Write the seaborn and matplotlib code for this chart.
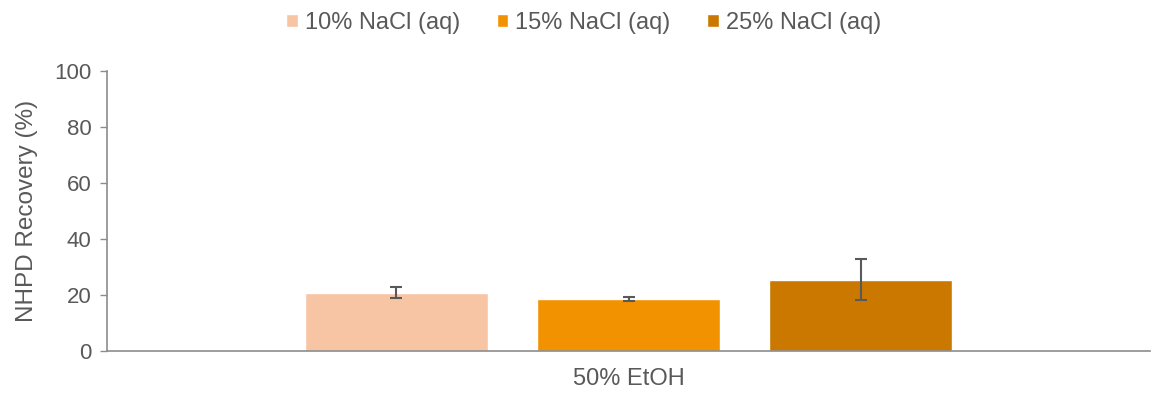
import matplotlib
matplotlib.use("Agg")
import matplotlib.pyplot as plt
import seaborn as sns
import pandas as pd

# Recovery data
categories = ["50% EtOH"]
series = ["10% NaCl (aq)", "15% NaCl (aq)", "25% NaCl (aq)"]
means = [20.8, 18.6, 25.4]
errors = [1.9, 0.6, 7.3]
colors = ["#F8C5A4", "#F39200", "#CB7800"]

df = pd.DataFrame({
    "solvent": categories * len(series),
    "salt": series,
    "recovery": means,
})

sns.set_theme(style="white")
plt.rcParams["font.family"] = ["Liberation Sans", "DejaVu Sans"]
text_color = "#595959"
spine_color = "#8C8C8C"

fig = plt.figure(figsize=(11.53, 3.98), dpi=100)
ax = fig.add_axes([107 / 1153, 1 - 351 / 398, (1150 - 107) / 1153, (351 - 71) / 398])

sns.barplot(data=df, x="solvent", y="recovery", hue="salt", hue_order=series,
            palette=colors, width=0.668, gap=0.21, errorbar=None, ax=ax,
            saturation=1, legend=True)

# error bars at bar centres
bars = [p for p in ax.patches if p.get_height() > 0][:len(series)]
bars.sort(key=lambda p: p.get_x())
xs = [p.get_x() + p.get_width() / 2 for p in bars]
ax.errorbar(xs, means, yerr=errors, fmt="none", ecolor="#595959",
            elinewidth=1.5, capsize=4.5, capthick=1.5, zorder=5)

ax.set_xlim(-0.5, 0.5)
ax.set_ylim(0, 100)
ax.set_yticks(range(0, 101, 20))
ax.set_xlabel("")
ax.set_ylabel("NHPD Recovery (%)", fontsize=17.5, color=text_color, labelpad=12)
ax.tick_params(axis="y", labelsize=16, labelcolor=text_color, length=5,
               color=spine_color, left=True, width=1, pad=6)
ax.tick_params(axis="x", labelsize=17, labelcolor=text_color, length=0, pad=12)
for s in ["top", "right"]:
    ax.spines[s].set_visible(False)
for s in ["left", "bottom"]:
    ax.spines[s].set_color(spine_color)
    ax.spines[s].set_linewidth(1.2)

leg = ax.legend(loc="upper center", bbox_to_anchor=(0.457, 1.245), ncol=3,
                frameon=False, fontsize=17, handlelength=0.5, handleheight=0.5,
                handletextpad=0.3, columnspacing=1.55, labelcolor=text_color,
                borderaxespad=0)

fig.savefig("out.png", dpi=100)
